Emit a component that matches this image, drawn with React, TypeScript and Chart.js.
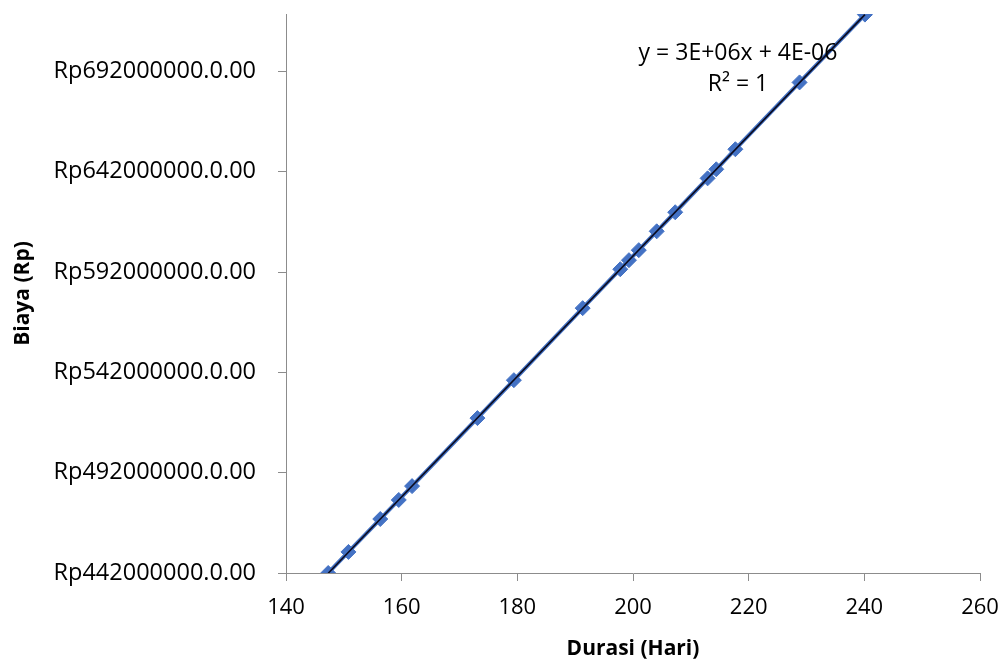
import React, { useEffect, useRef } from "react";
import { Chart, registerables } from "chart.js";

Chart.register(...registerables);

// Durasi (Hari)
const durasi: number[] = [147.3, 150.8, 156.3, 159.5, 161.8, 173.1, 179.4, 191.3, 197.8, 199.3, 201.0, 204.1, 207.3, 212.9, 214.4, 217.7, 228.8, 240.1];
// Biaya (Rp)
const biaya: number[] = [442.0e6, 452.5e6, 468.9e6, 478.4e6, 485.3e6, 519.2e6, 538.1e6, 574.0e6, 593.4e6, 597.9e6, 602.9e6, 612.3e6, 621.8e6, 638.7e6, 643.2e6, 653.2e6, 686.5e6, 720.3e6];

const xTicks: number[] = [140, 160, 180, 200, 220, 240, 260];
const yTicks: number[] = [442e6, 492e6, 542e6, 592e6, 642e6, 692e6];
const equationLines: string[] = ["y = 3E+06x + 4E-06", "R² = 1"];

const FONT = "'Open Sans', 'Noto Sans', sans-serif";

export default function App() {
  const ref = useRef<HTMLCanvasElement | null>(null);

  useEffect(() => {
    if (!ref.current) return;
    const pts = durasi.map((x, i) => ({ x, y: biaya[i] }));
    // linear trendline from least squares fit
    const n = durasi.length;
    const mx = durasi.reduce((a, b) => a + b, 0) / n;
    const my = biaya.reduce((a, b) => a + b, 0) / n;
    let sxy = 0, sxx = 0;
    for (let i = 0; i < n; i++) {
      sxy += (durasi[i] - mx) * (biaya[i] - my);
      sxx += (durasi[i] - mx) ** 2;
    }
    const slope = sxy / sxx;
    const icpt = my - slope * mx;
    const xmin = Math.min(...durasi);
    const xmax = Math.max(...durasi);
    const trend = [
      { x: xmin, y: icpt + slope * xmin },
      { x: xmax, y: icpt + slope * xmax },
    ];

    const eqPlugin = {
      id: "eq",
      afterDatasetsDraw(chart: any) {
        const ctx = chart.ctx;
        ctx.save();
        ctx.fillStyle = "#000";
        ctx.font = `23px ${FONT}`;
        ctx.textAlign = "center";
        ctx.textBaseline = "middle";
        ctx.fillText(equationLines[0], 738, 53);
        ctx.fillText(equationLines[1], 738, 84);
        ctx.restore();
      },
    };

    const chart = new Chart(ref.current, {
      type: "scatter",
      data: {
        datasets: [
          {
            label: "Linear",
            data: trend,
            showLine: true,
            borderColor: "#0a0a1e",
            borderWidth: 1.6,
            pointRadius: 0,
            order: 0,
          },
          {
            label: "Biaya",
            data: pts,
            showLine: true,
            borderColor: "#4472C4",
            borderWidth: 4,
            backgroundColor: "#4472C4",
            pointStyle: "rectRot",
            pointRadius: 7.5,
            pointBorderWidth: 1,
            pointBorderColor: "#4472C4",
            pointBackgroundColor: "#4472C4",
            order: 1,
          },
        ],
      },
      options: {
        animation: false,
        responsive: false,
        devicePixelRatio: 1,
        layout: { padding: { left: 0, right: 26, top: 14, bottom: 0 } },
        plugins: { legend: { display: false }, tooltip: { enabled: false } },
        scales: {
          x: {
            type: "linear",
            min: 140,
            max: 260,
            afterBuildTicks: (s: any) => { s.ticks = xTicks.map((v) => ({ value: v })); },
            afterFit: (s: any) => { s.height = 89; s.paddingLeft = 0; s.paddingRight = 0; },
            grid: { drawOnChartArea: false, drawTicks: true, tickLength: 8, color: "#8c8c8c" },
            border: { color: "#8c8c8c", width: 1 },
            ticks: { color: "#000", font: { family: FONT, size: 22 }, padding: 14, maxRotation: 0 },
            title: {
              display: true,
              text: "Durasi (Hari)",
              color: "#000",
              font: { family: FONT, size: 21, weight: "bold" },
              padding: { top: 0, bottom: 0 },
            },
          },
          y: {
            type: "linear",
            min: 442e6,
            max: 720.6e6,
            afterBuildTicks: (s: any) => { s.ticks = yTicks.map((v) => ({ value: v })); },
            afterFit: (s: any) => { s.width = 286; s.paddingTop = 0; s.paddingBottom = 0; },
            grid: { drawOnChartArea: false, drawTicks: true, tickLength: 8, color: "#8c8c8c" },
            border: { color: "#8c8c8c", width: 1 },
            ticks: {
              color: "#000",
              font: { family: FONT, size: 23.5 },
              padding: 22,
              callback: (v: any) => `Rp${Math.round(Number(v))}.0.00`,
            },
            title: {
              display: true,
              text: "Biaya (Rp)",
              color: "#000",
              font: { family: FONT, size: 21, weight: "bold" },
              padding: { top: 10, bottom: 0 },
            },
          },
        },
      },
      plugins: [eqPlugin],
    });
    return () => chart.destroy();
  }, []);

  return (
    <div style={{ position: "fixed", left: 0, top: 0, width: 1006, height: 662, background: "#fff" }}>
      <canvas ref={ref} width={1006} height={662} style={{ display: "block" }} />
    </div>
  );
}
